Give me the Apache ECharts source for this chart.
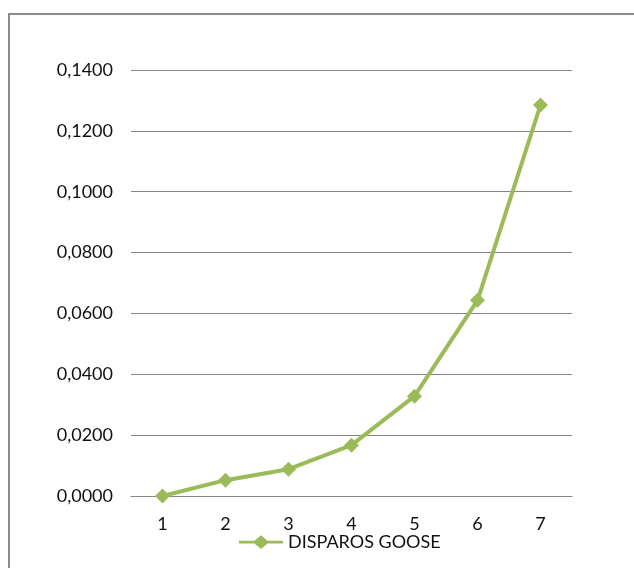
<!DOCTYPE html>
<html>
<head>
<meta charset="utf-8">
<script src="https://cdn.jsdelivr.net/npm/echarts@6/dist/echarts.min.js"></script>
<style>
  html, body { margin: 0; padding: 0; background: #fff; }
  #chart { width: 634px; height: 568px; }
</style>
</head>
<body>
<div id="chart"></div>
<script>
// Sample numbers on the horizontal axis
const categories = ['1', '2', '3', '4', '5', '6', '7'];
// Measured times for the GOOSE trips
const seriesName = 'DISPAROS GOOSE';
const disparos = [0.0000, 0.0052, 0.0088, 0.0167, 0.0328, 0.0643, 0.1285];
// Value axis range
const yMin = 0;
const yMax = 0.14;
const yStep = 0.02;

const fontFamily = 'Lato, "Open Sans", sans-serif';
const green = '#9BBB59';
const textColor = '#111111';

const chart = echarts.init(document.getElementById('chart'));
chart.setOption({
  animation: false,
  backgroundColor: '#ffffff',
  graphic: [{
    type: 'rect',
    shape: { x: 9, y: 14, width: 700, height: 700 },
    style: { fill: 'none', stroke: '#8c8c8c', lineWidth: 2 },
    silent: true
  }],
  grid: { left: 131, right: 62, top: 70, bottom: 72 },
  legend: {
    data: [{
      name: seriesName,
      // line with a diamond in the middle
      icon: 'path://M0,5 L14,5 L20,0 L26,5 L40,5 L40,7.5 L26,7.5 L20,12.5 L14,7.5 L0,7.5 Z'
    }],
    bottom: 12,
    left: 234,
    itemWidth: 44,
    itemHeight: 14,
    itemGap: 4,
    textStyle: { fontFamily: fontFamily, fontSize: 18, color: textColor }
  },
  xAxis: {
    type: 'category',
    data: categories,
    boundaryGap: true,
    axisLine: { show: true, lineStyle: { color: '#868686', width: 1 } },
    axisTick: { show: false },
    axisLabel: { margin: 19, fontFamily: fontFamily, fontSize: 18, color: textColor }
  },
  yAxis: {
    type: 'value',
    min: yMin,
    max: yMax,
    interval: yStep,
    axisLine: { show: false },
    axisTick: { show: false },
    splitLine: { lineStyle: { color: '#868686', width: 1 } },
    axisLabel: {
      margin: 18,
      fontFamily: fontFamily,
      fontSize: 18,
      color: textColor,
      formatter: v => v.toFixed(4).replace('.', ',')
    }
  },
  series: [{
    name: seriesName,
    type: 'line',
    data: disparos,
    symbol: 'diamond',
    symbolSize: 15,
    color: green,
    lineStyle: { color: green, width: 4 },
    itemStyle: { color: green }
  }]
});
</script>
</body>
</html>
